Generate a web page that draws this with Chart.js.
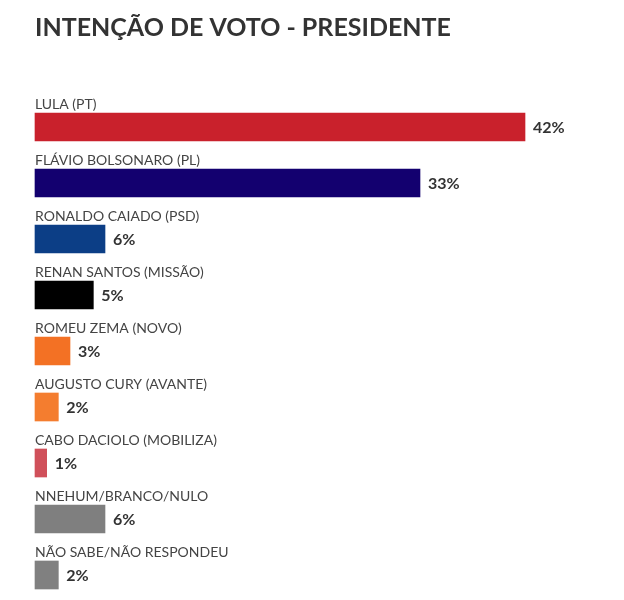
<!DOCTYPE html>
<html lang="pt-BR">
<head>
<meta charset="utf-8">
<title>Intenção de voto - Presidente</title>
<script src="https://cdn.jsdelivr.net/npm/chart.js@4.4.1/dist/chart.umd.min.js"></script>
<style>
    html, body { margin: 0; padding: 0; background: #ffffff; overflow: hidden; }
    #wrap { position: relative; width: 624px; height: 600px; }
</style>
</head>
<body>
<div id="wrap"><canvas id="grafico"></canvas></div>
<script>
// Intenção de voto para presidente - barras horizontais com rótulo acima

var candidatos = [
    "LULA (PT)",
    "FLÁVIO BOLSONARO (PL)",
    "RONALDO CAIADO (PSD)",
    "RENAN SANTOS (MISSÃO)",
    "ROMEU ZEMA (NOVO)",
    "AUGUSTO CURY (AVANTE)",
    "CABO DACIOLO (MOBILIZA)",
    "NNEHUM/BRANCO/NULO",
    "NÃO SABE/NÃO RESPONDEU"
];

var percentuais = [42, 33, 6, 5, 3, 2, 1, 6, 2];

var cores = [
    "#C9212C",
    "#13006F",
    "#0C3E86",
    "#000000",
    "#F37124",
    "#F47D2F",
    "#D0505A",
    "#7F7F7F",
    "#808080"
];

var FONTE = "Lato, 'Open Sans', sans-serif";

// Escreve o nome acima de cada barra e o valor logo à direita
var rotulosPlugin = {
    id: 'rotulos',
    afterDatasetsDraw: function (chart) {
        var ctx = chart.ctx;
        var meta = chart.getDatasetMeta(0);
        var area = chart.chartArea;
        ctx.save();
        ctx.textBaseline = 'alphabetic';
        meta.data.forEach(function (bar, i) {
            var topo = bar.y - bar.height / 2;
            ctx.fillStyle = '#444444';
            ctx.font = '14px ' + FONTE;
            ctx.textAlign = 'left';
            ctx.fillText(candidatos[i], area.left, topo - 4);

            ctx.fillStyle = '#333333';
            ctx.font = 'bold 16px ' + FONTE;
            ctx.fillText(percentuais[i] + '%', bar.x + 8, bar.y + 6);
        });
        ctx.restore();
    }
};

var ctx = document.getElementById('grafico').getContext('2d');
var chart = new Chart(ctx, {
    type: 'bar',
    data: {
        labels: candidatos,
        datasets: [{
            data: percentuais,
            backgroundColor: cores,
            borderWidth: 0,
            barThickness: 28,
            clip: false
        }]
    },
    options: {
        indexAxis: 'y',
        responsive: true,
        maintainAspectRatio: false,
        animation: false,
        layout: {
            padding: { left: 35, right: 29, top: 0, bottom: 25 }
        },
        scales: {
            x: { display: false, min: 0, max: 48 },
            y: { display: false, offset: false }
        },
        plugins: {
            legend: { display: false },
            tooltip: { enabled: false },
            title: {
                display: true,
                text: 'INTENÇÃO DE VOTO - PRESIDENTE',
                align: 'start',
                color: '#333333',
                font: { family: FONTE, size: 25, weight: 'bold', lineHeight: 1.2 },
                padding: { top: 13, bottom: 84 }
            }
        }
    },
    plugins: [rotulosPlugin]
});
</script>
</body>
</html>
